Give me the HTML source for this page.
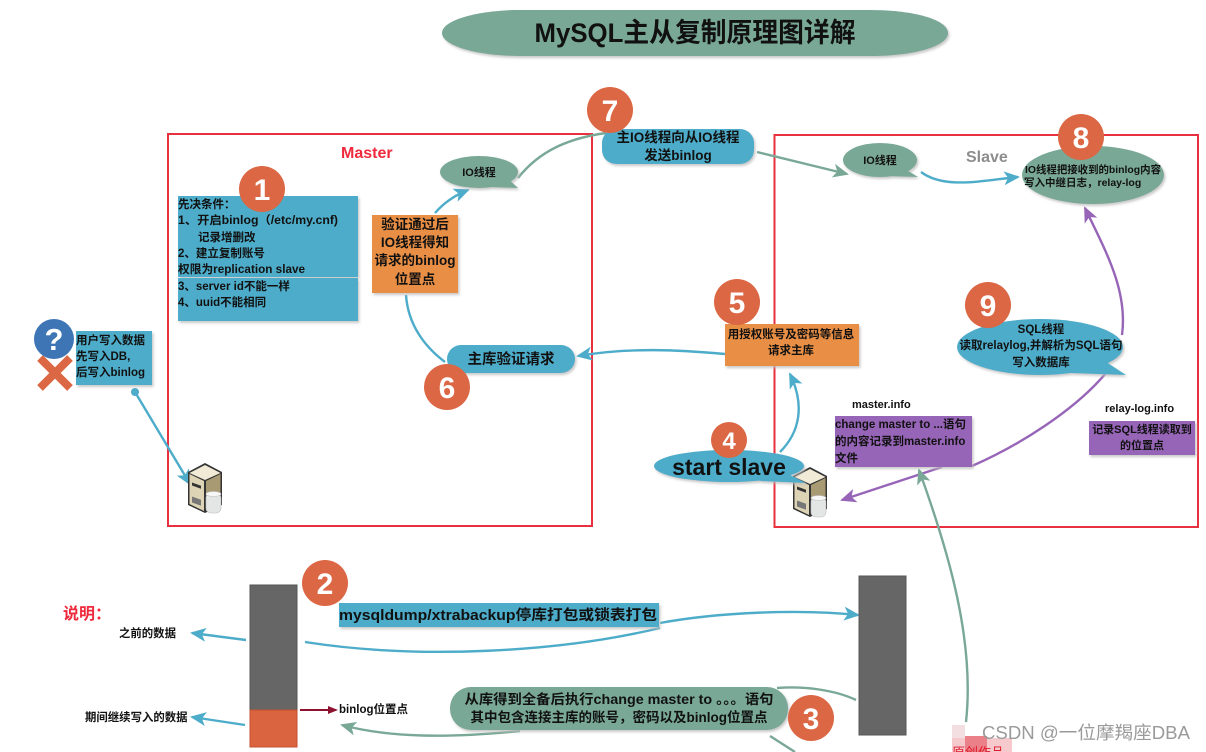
<!DOCTYPE html>
<html lang="zh">
<head>
<meta charset="utf-8">
<title>MySQL主从复制原理图详解</title>
<style>
html,body{margin:0;padding:0;background:#fff;width:1206px;height:752px;overflow:hidden}
svg{display:block;filter:blur(.35px)}
text{font-family:"Liberation Sans","Noto Sans CJK SC",sans-serif;font-weight:700;fill:#111}
.c{text-anchor:middle}
.n{font-size:30px;fill:#fff;text-anchor:middle}
.blue{fill:#4dacc9}.green{fill:#79a897}.orange{fill:#e98f45}.purple{fill:#9765b8}
.s{filter:url(#sh)}
.lb,.lg,.lp{fill:none;stroke-width:2.400}
.lb{stroke:#4dacc9}
.lg{stroke:#79a897}
.lp{stroke:#9765b8}
</style>
</head>
<body>
<svg width="1206" height="752" viewBox="0 0 1206 752" xmlns="http://www.w3.org/2000/svg">
<defs>
<filter id="sh" x="-10%" y="-20%" width="125%" height="150%"><feDropShadow dx="1.5" dy="2" stdDeviation="1.2" flood-color="#bbb" flood-opacity=".8"/></filter>
<marker id="ab" markerWidth="16" markerHeight="14" refX="14" refY="7" orient="auto" markerUnits="userSpaceOnUse"><path d="M0 0L16 7L0 14L4 7Z" fill="#4dacc9"/></marker>
<marker id="ag" markerWidth="16" markerHeight="14" refX="14" refY="7" orient="auto" markerUnits="userSpaceOnUse"><path d="M0 0L16 7L0 14L4 7Z" fill="#79a897"/></marker>
<marker id="ap" markerWidth="16" markerHeight="14" refX="14" refY="7" orient="auto" markerUnits="userSpaceOnUse"><path d="M0 0L16 7L0 14L4 7Z" fill="#9765b8"/></marker>
<marker id="ar" markerWidth="10" markerHeight="8" refX="8" refY="4" orient="auto" markerUnits="userSpaceOnUse"><path d="M0 0L10 4L0 8Z" fill="#8c1230"/></marker>
<g id="srv">
<path d="M0 9L17 0L34 9V42L17 50L0 42Z" fill="#333"/>
<path d="M1.5 10L17 2L32.500 10L17 17Z" fill="#f1ead6"/>
<path d="M1.500 11L16 18V48L1.500 41Z" fill="#ddd3b5"/>
<path d="M18 18L32.500 11V41L18 48Z" fill="#a89a72"/>
<rect x="4" y="20" width="9" height="3" fill="#333" transform="skewY(20) translate(0,-2)"/>
<rect x="4" y="34" width="9" height="6" fill="#777" transform="skewY(20) translate(0,-2)"/>
<rect x="18" y="30" width="15" height="20" rx="5" fill="#e4e6e6" stroke="#bbb" stroke-width=".6"/>
<ellipse cx="25.500" cy="31" rx="7.500" ry="2.500" fill="#f7f7f7" stroke="#bbb" stroke-width=".6"/>
</g>
</defs>

<!-- title -->
<path class="green s" d="M442 33C442 20 478 10 520 10H870C915 10 948 20 948 33C948 46 915 56 870 56H520C478 56 442 46 442 33Z"/>
<text class="c" x="695" y="42" font-size="27" textLength="321" lengthAdjust="spacingAndGlyphs">MySQL主从复制原理图详解</text>

<!-- frames -->
<rect x="168" y="134" width="424" height="392" fill="none" stroke="#e9303f" stroke-width="2"/>
<rect x="774.500" y="135" width="423.500" height="392" fill="none" stroke="#e9303f" stroke-width="2"/>
<text x="341" y="158" font-size="16" style="fill:#ee2a3c">Master</text>
<text x="966" y="162" font-size="16" style="fill:#8d8d8d">Slave</text>

<!-- connectors -->
<path class="lb" d="M135 392L190 484" marker-end="url(#ab)"/>
<circle cx="135" cy="392" r="4" fill="#4dacc9"/>
<path class="lb" d="M435 213Q448 198 468 190" marker-end="url(#ab)"/>
<path class="lg" d="M518 178C540 150 570 138 606 133"/>
<path class="lb" d="M406 295C408 325 425 347 445 362"/>
<path class="lb" d="M725 354C680 350 630 347 578 356" marker-end="url(#ab)"/>
<path class="lg" d="M757 152L847 174" marker-end="url(#ag)"/>
<path class="lb" d="M921 172C945 190 985 180 1018 177" marker-end="url(#ab)"/>
<path class="lp" d="M1122 335C1128 290 1105 250 1085 208" marker-end="url(#ap)"/>
<path class="lp" d="M1106 373C1075 410 1020 445 972 466"/>
<path class="lp" d="M942 467L842 500" marker-end="url(#ap)"/>
<path class="lb" d="M780 452C800 432 805 405 790 374" marker-end="url(#ab)"/>
<path class="lg" d="M966 722C975 640 948 550 919 470" marker-end="url(#ag)"/>
<path class="lb" d="M246 640L192 633" marker-end="url(#ab)"/>
<path class="lb" d="M245 725L192 717" marker-end="url(#ab)"/>
<path class="lb" d="M305 642C420 660 560 652 660 628"/>
<path class="lb" d="M660 623C720 612 800 609 858 615" marker-end="url(#ab)"/>
<path class="lg" d="M777 688C805 686 835 690 856 700"/>
<path class="lg" d="M520 731C450 738 390 738 342 725" marker-end="url(#ag)"/>
<path class="lg" d="M770 736L795 752"/>
<path d="M300 710H336" fill="none" stroke="#8c1230" stroke-width="2" marker-end="url(#ar)"/>

<!-- box 1 -->
<rect class="blue s" x="178" y="196" width="180" height="81"/>
<rect class="blue s" x="178" y="278" width="180" height="43"/>
<g font-size="11.500">
<text x="178" y="208">先决条件：</text>
<text x="178" y="224" textLength="160" lengthAdjust="spacingAndGlyphs">1、开启binlog（/etc/my.cnf)</text>
<text x="198" y="241">记录增删改</text>
<text x="178" y="257">2、建立复制账号</text>
<text x="178" y="273" textLength="127" lengthAdjust="spacingAndGlyphs">权限为replication slave</text>
<text x="178" y="290">3、server id不能一样</text>
<text x="178" y="306">4、uuid不能相同</text>
</g>

<!-- user write -->
<rect class="blue s" x="76" y="331" width="76" height="54"/>
<g font-size="11.500">
<text x="76" y="344">用户写入数据</text>
<text x="76" y="360">先写入DB,</text>
<text x="76" y="376">后写入binlog</text>
</g>
<path d="M40 358L70 388M70 358L40 388" stroke="#dc6744" stroke-width="8" fill="none"/>
<ellipse cx="54" cy="339" rx="20" ry="20" fill="#3d75b5"/>
<text class="c" x="54" y="350" font-size="31" style="fill:#fff">?</text>

<!-- servers -->
<use href="#srv" x="188" y="463"/>
<use href="#srv" x="793" y="467"/>

<!-- orange left -->
<rect class="orange s" x="372" y="215" width="86" height="78"/>
<text class="c" x="415" y="229" font-size="13.500">验证通过后</text>
<text class="c" x="415" y="247" font-size="13.500">IO线程得知</text>
<text class="c" x="415" y="265" font-size="13.500">请求的binlog</text>
<text class="c" x="415" y="284" font-size="13.500">位置点</text>

<!-- IO bubble left -->
<g class="s"><ellipse class="green" cx="479" cy="172" rx="39" ry="16"/><path class="green" d="M505 176L518 188L490 187Z"/></g>
<text class="c" x="479" y="176" font-size="11">IO线程</text>

<!-- pill 6 -->
<rect class="blue s" x="447" y="345" width="128" height="28" rx="14"/>
<text class="c" x="511" y="364" font-size="14.500">主库验证请求</text>

<!-- pill 7 -->
<rect class="blue s" x="602" y="129" width="152" height="35" rx="14"/>
<text class="c" x="678" y="142" font-size="13.500">主IO线程向从IO线程</text>
<text class="c" x="678" y="160" font-size="13.500">发送binlog</text>

<!-- IO bubble right -->
<g class="s"><ellipse class="green" cx="880" cy="160" rx="37" ry="17"/><path class="green" d="M900 166L918 177L885 176Z"/></g>
<text class="c" x="880" y="164" font-size="11">IO线程</text>

<!-- ellipse 8 -->
<ellipse class="green s" cx="1093" cy="175" rx="71" ry="29"/>
<text class="c" x="1093" y="173" font-size="10.500" textLength="136" lengthAdjust="spacingAndGlyphs">IO线程把接收到的binlog内容</text>
<text x="1024" y="186" font-size="10.500">写入中继日志，relay-log</text>

<!-- orange 5 -->
<rect class="orange s" x="725" y="324" width="134" height="42"/>
<text class="c" x="791" y="338" font-size="11.500">用授权账号及密码等信息</text>
<text class="c" x="791" y="354" font-size="11.500">请求主库</text>

<!-- bubble 9 -->
<g class="s"><ellipse class="blue" cx="1040" cy="347" rx="83" ry="28"/><path class="blue" d="M1100 358L1126 375L1070 373Z"/></g>
<text class="c" x="1041" y="333" font-size="11.500">SQL线程</text>
<text class="c" x="1041" y="349" font-size="11.500">读取relaylog,并解析为SQL语句</text>
<text class="c" x="1041" y="366" font-size="11.500">写入数据库</text>

<!-- purple -->
<text x="852" y="408" font-size="11">master.info</text>
<rect class="purple s" x="835" y="416" width="137" height="51"/>
<text x="835" y="428" font-size="11.500">change master to ...语句</text>
<text x="835" y="445" font-size="11.500">的内容记录到master.info</text>
<text x="835" y="462" font-size="11.500">文件</text>
<text x="1105" y="412" font-size="11">relay-log.info</text>
<rect class="purple s" x="1089" y="421" width="106" height="34"/>
<text class="c" x="1142" y="433" font-size="11">记录SQL线程读取到</text>
<text class="c" x="1142" y="449" font-size="11">的位置点</text>

<!-- start slave -->
<g class="s"><ellipse class="blue" cx="729" cy="466" rx="75" ry="16"/><path class="blue" d="M780 470L806 483L760 481Z"/></g>
<text class="c" x="729" y="475" font-size="23">start slave</text>

<!-- bars -->
<rect x="250" y="585" width="47" height="125" fill="#666" stroke="#555"/>
<rect x="250" y="710" width="47" height="37" fill="#d9643f" stroke="#c2502f"/>
<rect x="859" y="576" width="47" height="159" fill="#666" stroke="#555"/>

<!-- bottom labels -->
<text x="63" y="619" font-size="16" style="fill:#ee2a3c">说明：</text>
<text x="119" y="637" font-size="11.400">之前的数据</text>
<text x="85" y="721" font-size="11.400">期间继续写入的数据</text>
<text x="339" y="713" font-size="11.500">binlog位置点</text>

<rect class="blue s" x="339" y="603" width="320" height="24"/>
<text x="339" y="620" font-size="14.500" textLength="318" lengthAdjust="spacingAndGlyphs">mysqldump/xtrabackup停库打包或锁表打包</text>

<rect class="green s" x="450" y="687" width="338" height="43" rx="21"/>
<text class="c" x="619" y="704" font-size="13.500" textLength="309" lengthAdjust="spacingAndGlyphs">从库得到全备后执行change master to 。。。语句</text>
<text class="c" x="619" y="722" font-size="13.500" textLength="297" lengthAdjust="spacingAndGlyphs">其中包含连接主库的账号，密码以及binlog位置点</text>

<!-- numbered circles -->
<g fill="#dc6744">
<ellipse cx="262" cy="189" rx="23" ry="23"/>
<ellipse cx="610" cy="110" rx="23" ry="23"/>
<ellipse cx="1081" cy="137" rx="23" ry="23"/>
<ellipse cx="737" cy="302" rx="23" ry="23"/>
<ellipse cx="988" cy="305" rx="23" ry="23"/>
<ellipse cx="729" cy="440" rx="18" ry="18"/>
<ellipse cx="447" cy="387" rx="23" ry="23"/>
<ellipse cx="325" cy="583" rx="23" ry="23"/>
<ellipse cx="811" cy="718" rx="23" ry="23"/>
</g>
<text class="n" x="262" y="200">1</text>
<text class="n" x="610" y="121">7</text>
<text class="n" x="1081" y="148">8</text>
<text class="n" x="737" y="313">5</text>
<text class="n" x="988" y="316">9</text>
<text class="n" x="729" y="449" style="font-size:24px">4</text>
<text class="n" x="447" y="398">6</text>
<text class="n" x="325" y="594">2</text>
<text class="n" x="811" y="729">3</text>

<!-- watermark -->
<rect x="952" y="725" width="13" height="27" fill="#f3dfe1"/>
<rect x="952" y="738" width="60" height="14" fill="#f6c9cd"/>
<rect x="965" y="736" width="22" height="16" fill="#ec8088"/>
<text x="952" y="757" font-size="13" style="fill:#e01b2c;font-weight:400">原创作品</text>
<text x="982" y="739" font-size="18" textLength="208" lengthAdjust="spacingAndGlyphs" style="fill:#9a9a9a;font-weight:400">CSDN @一位摩羯座DBA</text>
</svg>
</body>
</html>
